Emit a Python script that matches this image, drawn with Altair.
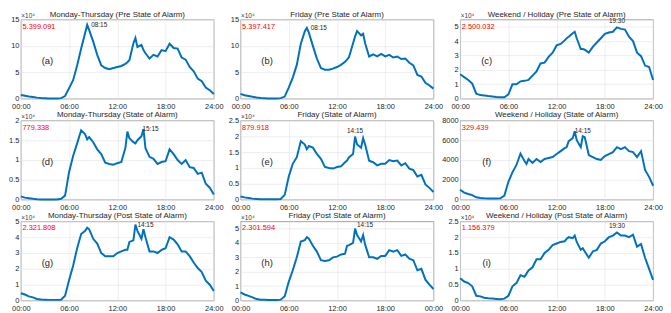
import altair as alt
import pandas as pd

HOURS = [0, 0.5, 1, 1.5, 2, 2.5, 3, 3.5, 4, 4.5, 5, 5.5, 6, 6.5, 7, 7.5, 8, 8.25, 8.5,
         9, 9.5, 10, 10.5, 11, 11.5, 12, 12.5, 13, 13.25, 13.5, 14, 14.25, 14.5, 15,
         15.25, 15.5, 16, 16.5, 17, 17.5, 18, 18.5, 19, 19.5, 20, 20.5, 21, 21.5, 22,
         22.5, 23, 23.5, 24]

MT_PRE = [0.7, 0.55, 0.4, 0.3, 0.2, 0.12, 0.08, 0.05, 0.05, 0.05, 0.1, 0.5, 2.0, 3.5, 6.3,
          9.5, 12.5, 14.0, 13.0, 10.8, 8.3, 6.3, 5.8, 5.6, 5.8, 6.0, 6.2, 6.6, 6.9, 7.3,
          10.5, 11.5, 9.8, 10.2, 9.2, 8.6, 7.6, 8.3, 8.0, 9.2, 9.0, 10.4, 9.6, 9.5, 7.8,
          7.4, 6.0, 5.2, 3.8, 3.3, 2.1, 1.6, 0.9]
FR_PRE = [0.9, 0.65, 0.5, 0.35, 0.22, 0.12, 0.08, 0.05, 0.05, 0.05, 0.1, 0.4, 2.1, 4.0, 6.4,
          10.4, 12.8, 13.4, 12.5, 10.0, 7.6, 5.8, 5.5, 5.5, 5.7, 6.0, 6.4, 7.0, 7.4, 7.9,
          10.5, 11.8, 12.8, 12.0, 12.3, 10.5, 8.0, 8.4, 8.0, 8.5, 8.0, 8.3, 7.8, 8.0, 7.5,
          7.6, 6.8, 6.3, 4.5, 4.2, 3.0, 2.5, 1.9]
WE_PRE = [1.7, 1.5, 1.3, 1.05, 0.35, 0.25, 0.22, 0.18, 0.15, 0.12, 0.1, 0.1, 0.3, 1.0, 1.0,
          1.2, 1.25, 1.27, 1.3, 1.6, 1.9, 2.45, 2.5, 2.9, 3.2, 3.7, 3.8, 4.05, 4.2, 4.3,
          4.55, 4.65, 4.2, 3.45, 3.45, 3.4, 3.2, 3.6, 3.9, 4.2, 4.5, 4.6, 4.65, 4.95, 4.85,
          4.8, 4.3, 4.0, 3.2, 2.95, 2.3, 2.2, 1.3]
MT_SOA = [0.08, 0.05, 0.035, 0.02, 0.01, 0.005, 0.005, 0.005, 0.005, 0.005, 0.02, 0.1, 0.7,
          1.1, 1.42, 1.75, 1.65, 1.52, 1.58, 1.45, 1.27, 1.15, 0.93, 0.9, 0.88, 0.92, 0.95,
          1.3, 1.72, 1.55, 1.45, 1.42, 1.5, 1.6, 1.78, 1.3, 1.08, 1.03, 0.9, 0.95, 0.97,
          1.27, 1.15, 1.0, 0.9, 1.0, 0.82, 0.8, 0.65, 0.68, 0.4, 0.3, 0.13]
FR_SOA = [0.1, 0.07, 0.05, 0.03, 0.02, 0.01, 0.01, 0.01, 0.01, 0.01, 0.02, 0.15, 0.73, 1.13,
          1.34, 1.84, 1.74, 1.59, 1.69, 1.64, 1.44, 1.29, 1.03, 1.0, 0.98, 1.03, 1.05, 1.18,
          1.23, 1.34, 1.44, 1.99, 1.74, 1.64, 1.94, 1.74, 1.23, 1.18, 1.08, 1.13, 1.13,
          1.25, 1.21, 1.23, 1.08, 1.15, 0.98, 0.93, 0.73, 0.78, 0.48, 0.37, 0.24]
WE_SOA = [1000, 700, 560, 450, 230, 170, 130, 100, 100, 100, 130, 400, 1800, 2750, 3500,
          4650, 3900, 3600, 4100, 3700, 4100, 3800, 4100, 4200, 4300, 4600, 4900, 5200,
          5300, 5900, 6200, 6900, 6000, 5300, 6400, 6300, 4500, 4300, 4100, 4000, 4400,
          4600, 4800, 5300, 5100, 5300, 4900, 4800, 4300, 4900, 3000, 2300, 1400]
MT_POST = [0.46, 0.38, 0.26, 0.2, 0.1, 0.06, 0.05, 0.04, 0.04, 0.04, 0.05, 0.3, 1.3, 2.2,
           3.3, 4.2, 4.4, 4.6, 4.5, 3.9, 3.6, 3.0, 2.8, 2.8, 2.8, 3.0, 3.1, 3.2, 3.2, 3.7,
           3.8, 4.8, 4.4, 3.9, 4.5, 4.0, 3.1, 3.1, 3.0, 3.2, 3.3, 4.0, 3.85, 3.55, 3.1,
           3.1, 2.8, 2.4, 2.05, 1.8, 1.25, 1.0, 0.6]
FR_POST = [0.56, 0.42, 0.32, 0.22, 0.1, 0.06, 0.05, 0.04, 0.04, 0.04, 0.06, 0.3, 1.3, 2.1,
           3.0, 4.1, 4.2, 4.4, 4.3, 3.8, 3.4, 2.8, 2.75, 2.8, 3.0, 3.05, 3.2, 3.25, 3.8,
           3.85, 4.0, 5.0, 4.55, 4.1, 4.55, 3.9, 3.0, 3.0, 2.9, 3.1, 3.1, 3.5, 3.4, 3.5,
           3.1, 3.2, 2.9, 2.8, 2.1, 2.2, 1.45, 1.1, 0.8]
WE_POST = [0.7, 0.6, 0.55, 0.45, 0.15, 0.13, 0.09, 0.07, 0.06, 0.05, 0.04, 0.06, 0.15, 0.45,
           0.55, 0.8, 0.75, 0.85, 0.95, 1.05, 1.3, 1.3, 1.5, 1.6, 1.75, 1.8, 1.85, 1.87,
           1.95, 2.0, 1.97, 2.05, 1.85, 1.6, 1.65, 1.55, 1.35, 1.55, 1.6, 1.8, 1.87, 2.0,
           2.05, 2.15, 2.05, 2.05, 2.0, 2.08, 1.7, 1.78, 1.35, 1.0, 0.65]

SERIES = [MT_PRE, FR_PRE, WE_PRE, MT_SOA, FR_SOA, WE_SOA, MT_POST, FR_POST, WE_POST]
TITLES = ["Monday-Thursday (Pre State of Alarm)", "Friday (Pre State of Alarm)",
          "Weekend / Holiday (Pre State of Alarm)", "Monday-Thursday (State of Alarm)",
          "Friday (State of Alarm)", "Weekend / Holiday (State of Alarm)",
          "Monday-Thursday (Post State of Alarm)", "Friday (Post State of Alarm)",
          "Weekend / Holiday (Post State of Alarm)"]
TOTALS = ["5.399.091", "5.397.417", "2.500.032", "779.338", "879.918", "329.439",
          "2.321.808", "2.301.594", "1.156.379"]
LETTERS = ["(a)", "(b)", "(c)", "(d)", "(e)", "(f)", "(g)", "(h)", "(i)"]
Y_MAX = [15, 15, 5.5, 2, 2.5, 8000, 5, 5.5, 2.5]
Y_TICKS = [[0, 5, 10, 15], [0, 5, 10, 15], [0, 1, 2, 3, 4, 5], [0, 0.5, 1, 1.5, 2],
           [0, 0.5, 1, 1.5, 2, 2.5], [0, 2000, 4000, 6000, 8000], [0, 1, 2, 3, 4, 5],
           [0, 1, 2, 3, 4, 5], [0, 0.5, 1, 1.5, 2, 2.5]]
EXPONENT = ["×10⁴", "×10⁴", "×10⁴", "×10⁴", "×10⁴", "", "×10⁴", "×10⁴", "×10⁴"]
X_TICKS = [0, 6, 12, 18, 24]
LAST_LABEL = ["24:00", "24:00", "24:00", "24:00", "24:00", "24:00", "24:00", "00:00", "24:00"]
# peak label style: (align, baseline, dx, dy)
PEAK_STYLE = [("left", "middle", 4, 0), ("left", "middle", 4, 0), ("center", "bottom", 0, -3),
              ("left", "middle", -1, 0), ("center", "bottom", 0, -3), ("left", "middle", 0, 0),
              ("left", "middle", 2, 0), ("left", "bottom", 2, -1), ("center", "bottom", 0, -3)]

FONT = "Liberation Sans"
BLUE = "#0072BD"


def fmt_time(h):
    hh = int(h)
    mm = int(round((h - hh) * 60))
    return f"{hh:02d}:{mm:02d}"


def panel(i):
    vals = SERIES[i]
    df = pd.DataFrame({"h": HOURS, "v": vals})
    ymax = Y_MAX[i]
    xs = alt.Scale(domain=[0, 24], nice=False, zero=False)
    ys = alt.Scale(domain=[0, ymax], nice=False, zero=True)
    last = LAST_LABEL[i]
    x_axis = alt.Axis(values=X_TICKS, title=None, labelFlush=False, labelOverlap=False,
                      labelPadding=4,
                      labelExpr=f"datum.value == 24 ? '{last}' : (datum.value < 10 ? '0' : '') + datum.value + ':00'")
    if EXPONENT[i]:
        y_axis = alt.Axis(values=Y_TICKS[i], format=".2~f", title=EXPONENT[i], titleAngle=0,
                          titleAlign="left", titleBaseline="bottom", titleX=0, titleY=-1,
                          titleFontSize=6.5, titleFontWeight="normal", titleColor="#404040",
                          titleFont=FONT, labelOverlap=False, labelFlush=False)
        toff = -6
    else:
        y_axis = alt.Axis(values=Y_TICKS[i], format=".2~f", title=None, labelOverlap=False,
                          labelFlush=False)
        toff = -3

    line = alt.Chart(df).mark_line(color=BLUE, strokeWidth=2).encode(
        x=alt.X("h:Q", scale=xs, axis=x_axis),
        y=alt.Y("v:Q", scale=ys, axis=y_axis),
    )
    total_df = pd.DataFrame({"h": [0.2], "v": [ymax * 0.91], "t": [TOTALS[i]]})
    total = alt.Chart(total_df).mark_text(color="#ff0000", fontSize=7.5, font=FONT,
                                          align="left", baseline="middle").encode(
        x=alt.X("h:Q", scale=xs, axis=x_axis), y=alt.Y("v:Q", scale=ys, axis=y_axis), text="t:N")
    letter_df = pd.DataFrame({"h": [3.3], "v": [ymax * 0.47], "t": [LETTERS[i]]})
    letter = alt.Chart(letter_df).mark_text(color="#262626", fontSize=9.5, font=FONT,
                                            align="center", baseline="middle").encode(
        x=alt.X("h:Q", scale=xs, axis=x_axis), y=alt.Y("v:Q", scale=ys, axis=y_axis), text="t:N")
    k = max(range(len(vals)), key=lambda j: vals[j])
    peak_df = pd.DataFrame({"h": [HOURS[k]], "v": [vals[k]], "t": [fmt_time(HOURS[k])]})
    al, bl, dx, dy = PEAK_STYLE[i]
    peak = alt.Chart(peak_df).mark_text(color="#262626", fontSize=6.5, font=FONT,
                                        align=al, baseline=bl, dx=dx, dy=dy).encode(
        x=alt.X("h:Q", scale=xs, axis=x_axis), y=alt.Y("v:Q", scale=ys, axis=y_axis), text="t:N")
    return alt.layer(line, total, letter, peak).properties(
        width=195, height=80,
        title=alt.TitleParams(TITLES[i], offset=toff))


panels = [panel(i) for i in range(9)]
chart = alt.concat(*panels, columns=3, spacing={"row": 22, "column": 27}, bounds="flush").properties(
    padding=0
).configure_view(
    stroke="#8c8c8c", strokeWidth=0.8
).configure_axis(
    domain=False, ticks=False, grid=True, gridColor="#e2e2e2", gridWidth=0.6,
    labelFont=FONT, labelFontSize=7.5, labelColor="#262626", labelPadding=2
).configure_title(
    font=FONT, fontSize=8, fontWeight="normal", color="#262626"
)

chart.save("out.html", embed_options={"renderer": "svg", "actions": False})
